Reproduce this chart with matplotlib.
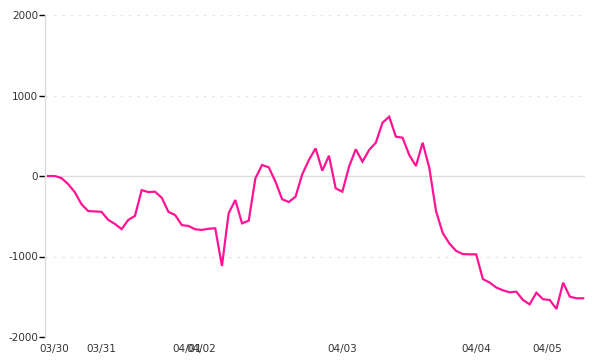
import matplotlib
matplotlib.use('Agg')
import matplotlib.pyplot as plt
import numpy as np

# values, one point per sample
values = [0, 0, -25, -100, -200, -350, -435, -440, -445, -545,
          -595, -660, -545, -495, -175, -200, -195, -270, -445, -485,
          -610, -621, -662, -670, -655, -650, -1118, -463, -298, -588,
          -555, -29, 137, 108, -71, -289, -323, -257, 20, 200,
          344, 66, 252, -153, -195, 116, 332, 178, 323, 414,
          662, 737, 488, 476, 261, 124, 414, 100, -435, -708,
          -838, -930, -970, -973, -973, -1280, -1323, -1385, -1420, -1445,
          -1437, -1540, -1594, -1450, -1531, -1540, -1652, -1325, -1499, -1519,
          -1519]
tick_pos = [1, 8, 20.8, 22.9, 44, 64, 74.6]
tick_labels = ['03/30', '03/31', '04/01', '04/02', '04/03', '04/04', '04/05']
y_ticks = [-2000, -1000, 0, 1000, 2000]

fig = plt.figure(figsize=(6, 3.6), dpi=100)
ax = fig.add_axes([0.075, 0.0639, 0.9, 0.8944])

x = np.arange(len(values))
ax.plot(x, values, color='#ff1493', lw=1.6, solid_joinstyle='miter', zorder=3)

ax.set_xlim(-0.45, 80.27)
ax.set_ylim(-2000, 2000)

for v in y_ticks:
    if v == 0:
        ax.axhline(v, color='#dddddd', lw=1, zorder=1)
    else:
        ax.axhline(v, color='#e6e6e6', lw=1, ls=(0, (2, 4)), zorder=1)

ax.set_yticks(y_ticks)
ax.set_yticklabels([str(v) for v in y_ticks])
ax.tick_params(axis='y', length=4, width=1, color='black', pad=1, labelsize=7.5, labelcolor='#333333')
ax.set_xticks(tick_pos)
ax.set_xticklabels(tick_labels)
ax.tick_params(axis='x', length=0, pad=5, labelsize=7.5, labelcolor='#333333')

for s in ['top', 'right', 'bottom']:
    ax.spines[s].set_visible(False)
ax.spines['left'].set_color('#dddddd')
ax.spines['left'].set_linewidth(1)

fig.savefig('out.png', dpi=100)
